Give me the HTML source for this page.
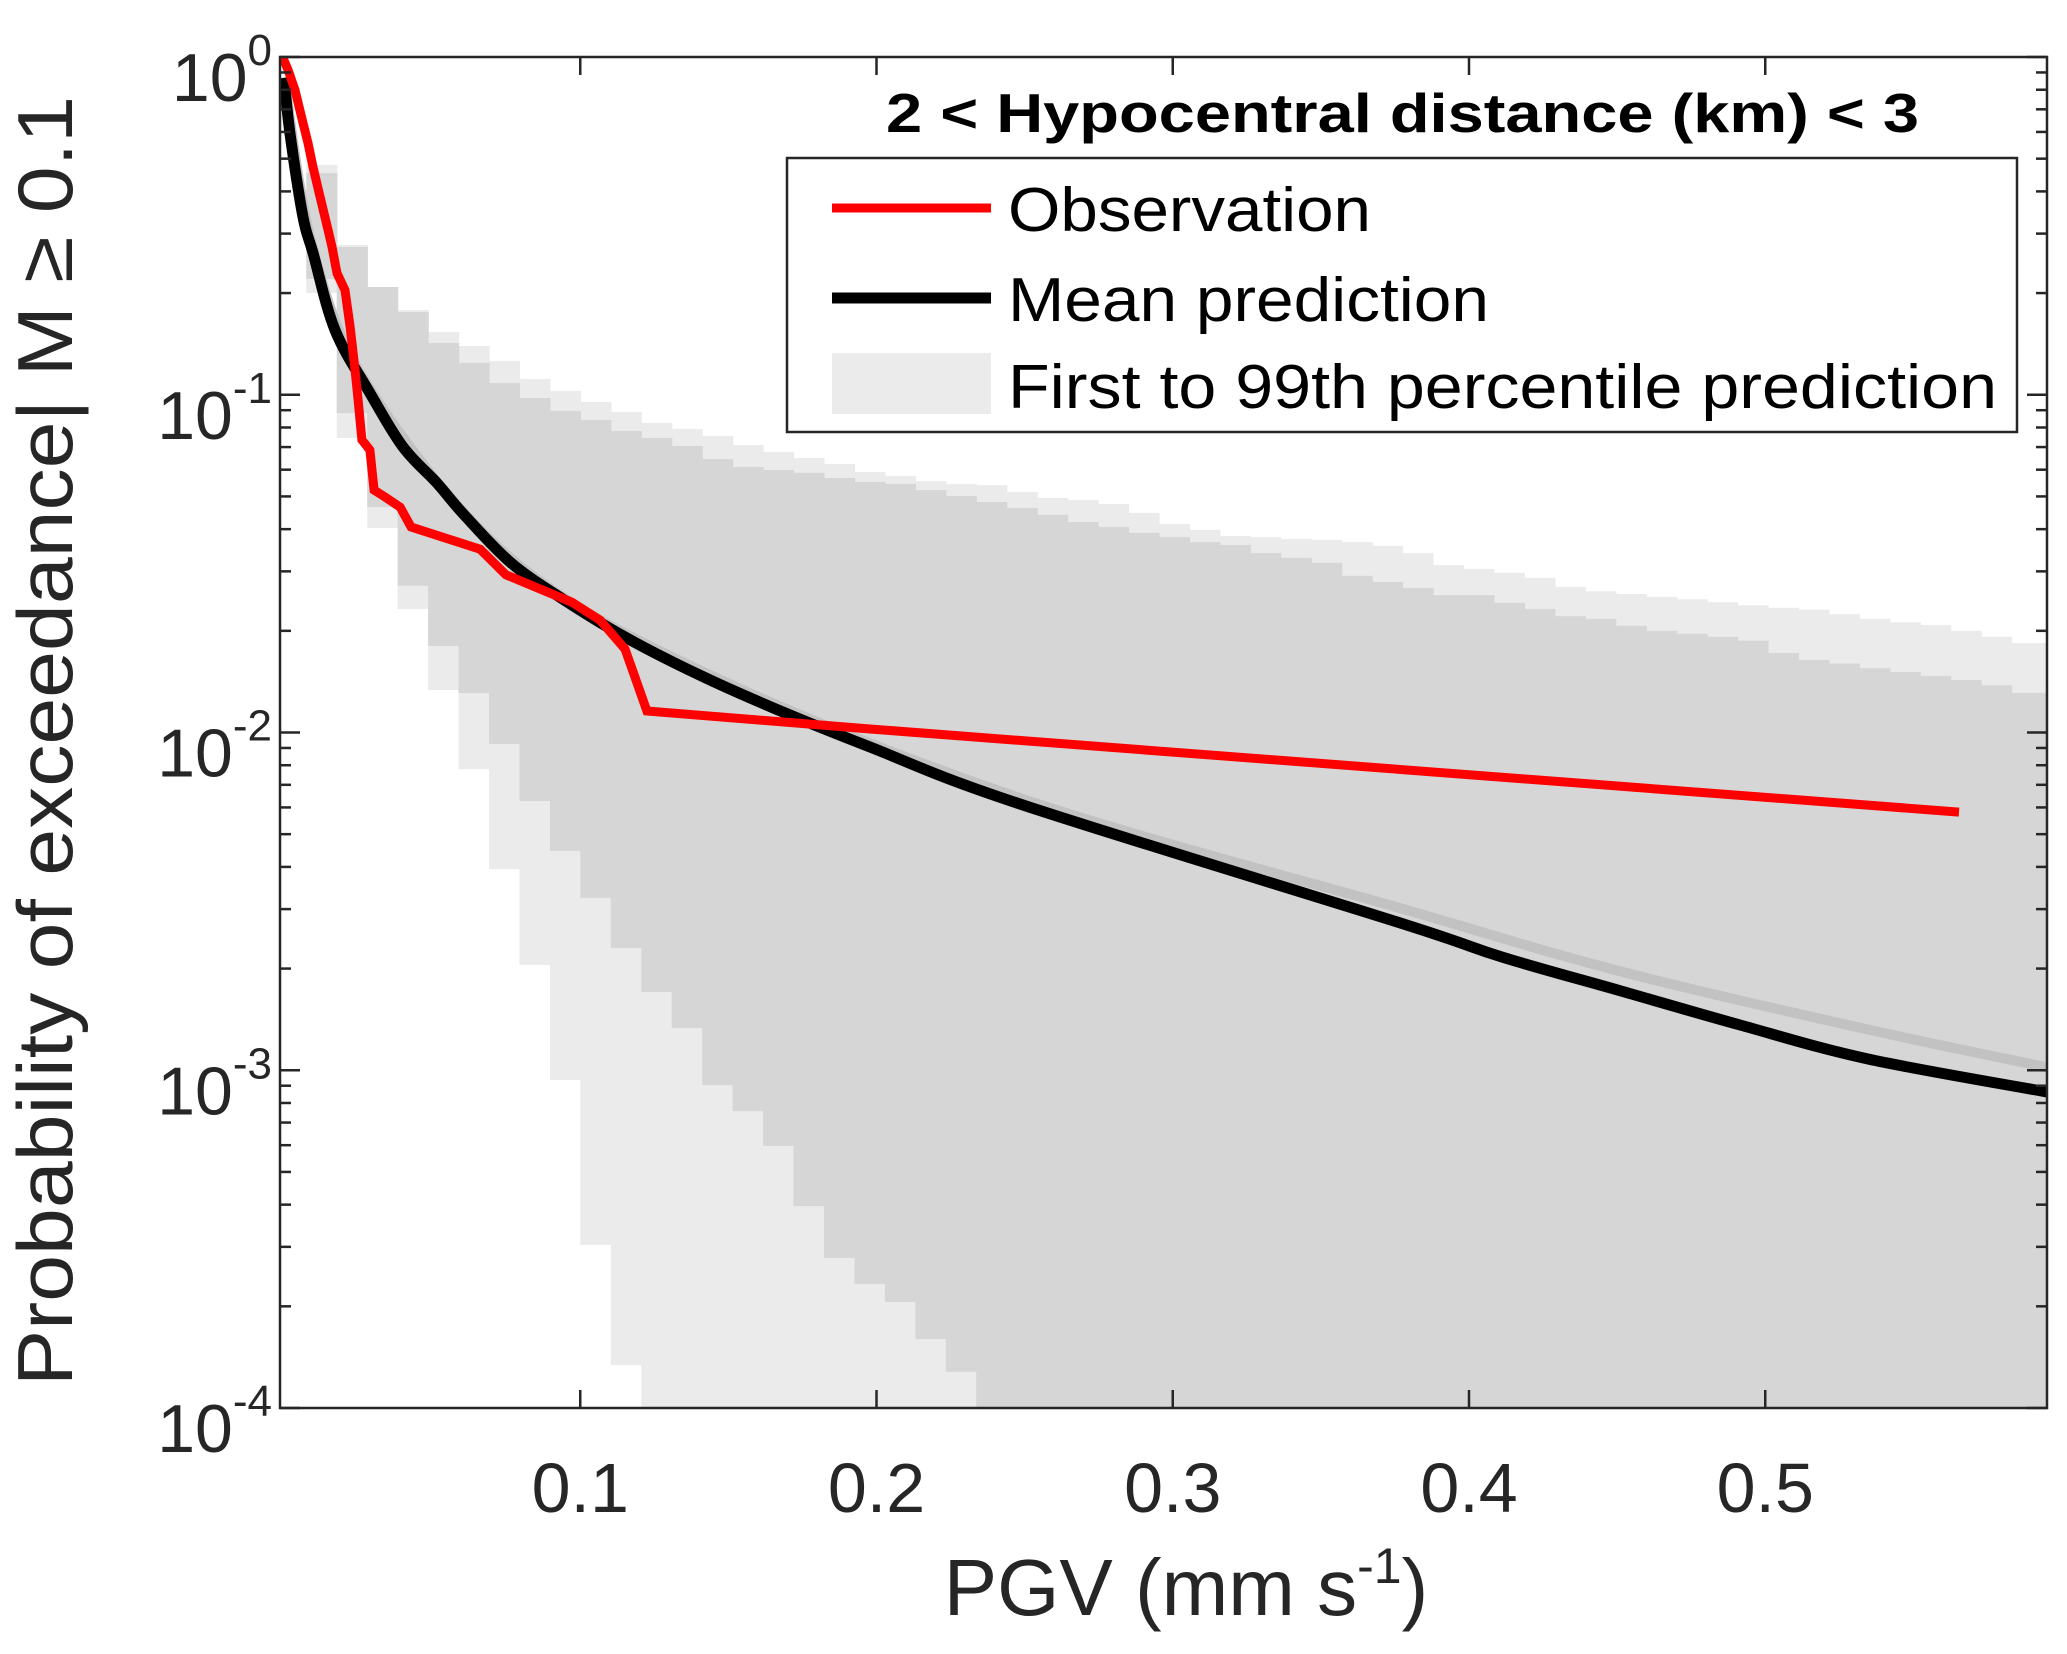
<!DOCTYPE html>
<html><head><meta charset="utf-8"><style>
html,body{margin:0;padding:0;background:#fff}
svg{display:block;font-family:"Liberation Sans",Arial,sans-serif}
</style></head><body>
<svg id="chart" width="2067" height="1654" viewBox="0 0 2067 1654" xmlns="http://www.w3.org/2000/svg">
<defs><clipPath id="plotclip"><rect x="280" y="57" width="1767" height="1351"/></clipPath></defs>
<g id="bands" clip-path="url(#plotclip)"></g>
<g id="lines" clip-path="url(#plotclip)"></g>
<g id="axes"></g>
<g>
  <text x="886" y="132" font-size="55" font-weight="bold" fill="#000" textLength="1033" lengthAdjust="spacingAndGlyphs">2 &lt; Hypocentral distance (km) &lt; 3</text>
  <rect x="787" y="158" width="1230" height="274" fill="#fff" stroke="#262626" stroke-width="2.5"/>
  <line x1="832" y1="208" x2="991" y2="208" stroke="#ff0000" stroke-width="9"/>
  <text x="1008" y="231" font-size="62" fill="#000" textLength="363" lengthAdjust="spacingAndGlyphs">Observation</text>
  <line x1="832" y1="298" x2="991" y2="298" stroke="#000" stroke-width="11"/>
  <text x="1008" y="321" font-size="62" fill="#000" textLength="481" lengthAdjust="spacingAndGlyphs">Mean prediction</text>
  <rect x="832" y="353" width="159" height="61" fill="#ebebeb"/>
  <text x="1008" y="408" font-size="62" fill="#000" textLength="989" lengthAdjust="spacingAndGlyphs">First to 99th percentile prediction</text>
</g>
<text x="1186" y="1615" font-size="80" fill="#262626" text-anchor="middle">PGV (mm s<tspan font-size="50" dy="-32">-1</tspan><tspan dy="32">)</tspan></text>
<text transform="translate(72,741) rotate(-90)" font-size="78" fill="#262626" text-anchor="middle" textLength="1290" lengthAdjust="spacingAndGlyphs">Probability of exceedance| M ≥ 0.1</text>
</svg>
<script>
// ---- data ----
const xTicks = [0.1, 0.2, 0.3, 0.4, 0.5];
const xTickLabels = ["0.1", "0.2", "0.3", "0.4", "0.5"];
const yDecades = [0, -1, -2, -3, -4];
const yTickExps = ["0", "-1", "-2", "-3", "-4"];
const binStart = 0.00753;
const binWidth = 0.010279;
const upperLight = [0.479,0.2776,0.2085,0.1781,0.1534,0.1394,0.1259,0.1113,0.1026,0.0952,0.0889,0.0825,0.0792,0.0755,0.0710,0.0677,0.0650,0.0624,0.0591,0.0575,0.0555,0.0544,0.0540,0.0515,0.0495,0.0488,0.0475,0.0447,0.0414,0.0398,0.0382,0.0379,0.0374,0.0372,0.0366,0.0357,0.0340,0.0313,0.0305,0.0297,0.0287,0.0270,0.0262,0.0257,0.0252,0.0248,0.0243,0.0238,0.0234,0.0231,0.0224,0.0217,0.0212,0.0208,0.0200,0.0192,0.0184,0.0184];
const upperDark = [0.4535,0.2738,0.2085,0.1758,0.1423,0.1242,0.1083,0.0978,0.0895,0.0842,0.0781,0.0745,0.0705,0.0645,0.0611,0.0599,0.0587,0.0567,0.0552,0.0544,0.0522,0.0501,0.0481,0.0462,0.0441,0.0420,0.0406,0.0390,0.0379,0.0366,0.0359,0.0340,0.0329,0.0318,0.0291,0.0279,0.0268,0.0255,0.0255,0.0242,0.0232,0.0221,0.0217,0.0207,0.0200,0.0196,0.0192,0.0187,0.0172,0.0164,0.0160,0.0155,0.0151,0.0147,0.0143,0.0138,0.0131,0.0131];
const lowerDark = [0.2202,0.0883,0.0465,0.0272,0.01804,0.01309,0.00925,0.00627,0.00446,0.00324,0.00230,0.001705,0.001334,0.000904,0.000757,0.000597,0.000396,0.000278,0.000233,0.000206,0.000160,0.000128,0.000100,0.00005,0.00005,0.00005,0.00005,0.00005,0.00005,0.00005,0.00005,0.00005,0.00005,0.00005,0.00005,0.00005,0.00005,0.00005,0.00005,0.00005,0.00005,0.00005,0.00005,0.00005,0.00005,0.00005,0.00005,0.00005,0.00005,0.00005,0.00005,0.00005,0.00005,0.00005,0.00005,0.00005,0.00005,0.00005];
const lowerLight = [0.2001,0.0745,0.0403,0.0232,0.01336,0.00779,0.00394,0.00205,0.000936,0.000304,0.000134,0.00005,0.00005,0.00005,0.00005,0.00005,0.00005,0.00005,0.00005,0.00005,0.00005,0.00005,0.00005,0.00005,0.00005,0.00005,0.00005,0.00005,0.00005,0.00005,0.00005,0.00005,0.00005,0.00005,0.00005,0.00005,0.00005,0.00005,0.00005,0.00005,0.00005,0.00005,0.00005,0.00005,0.00005,0.00005,0.00005,0.00005,0.00005,0.00005,0.00005,0.00005,0.00005,0.00005,0.00005,0.00005,0.00005,0.00005];
const obsX = [-0.0005,0.0014,0.0037,0.0064,0.0081,0.0098,0.0122,0.0149,0.0162,0.0179,0.0206,0.0223,0.0240,0.0250,0.0263,0.0290,0.0304,0.0341,0.0392,0.0429,0.0662,0.0749,0.0972,0.1067,0.1151,0.1225,0.1978,0.5654];
const obsY = [1.0,0.915,0.798,0.638,0.556,0.472,0.385,0.307,0.274,0.229,0.204,0.159,0.118,0.0965,0.0735,0.0686,0.0522,0.0498,0.0465,0.0406,0.0349,0.0293,0.0243,0.0215,0.01767,0.01158,0.01024,0.00581];
const meanX = [0.0,0.0020,0.0064,0.0098,0.0172,0.0290,0.0402,0.0516,0.0608,0.0766,0.0945,0.1151,0.1424,0.1701,0.1978,0.2484,0.3767,0.4111,0.4513,0.4915,0.5347,0.5951];
const meanY = [0.867,0.596,0.336,0.263,0.1555,0.1012,0.0700,0.0548,0.0441,0.0318,0.0247,0.01917,0.01450,0.01134,0.00906,0.00614,0.00273,0.002164,0.001717,0.001361,0.00108,0.000862];
const medX = [0.0,0.0098,0.0290,0.0766,0.1424,0.2484,0.3767,0.4513,0.5347,0.5951];
const medY = [0.87,0.27,0.104,0.0328,0.0150,0.0064,0.00302,0.00196,0.00132,0.00102];

// ---- axes functions ----
const L=280,R=2047,T=57,B=1408;
const X0=284, XS=2962.5;
function sx(v){return X0+v*XS;}
function sy(p){return T-(Math.log10(p))*(B-T)/4;}
const NS="http://www.w3.org/2000/svg";
function mk(tag,attrs,parent){const e=document.createElementNS(NS,tag);for(const k in attrs)e.setAttribute(k,attrs[k]);parent.appendChild(e);return e;}

const bands=document.getElementById('bands');
for(let i=0;i<upperLight.length;i++){
  const x1=sx(binStart+i*binWidth), x2=sx(binStart+(i+1)*binWidth);
  const r=mk('rect',{x:x1,y:sy(upperLight[i]),width:x2-x1+0.6,height:sy(lowerLight[i])-sy(upperLight[i]),fill:'#ebebeb'},bands);
  
  
}
for(let i=0;i<upperDark.length;i++){
  const x1=sx(binStart+i*binWidth), x2=sx(binStart+(i+1)*binWidth);
  const r=mk('rect',{x:x1,y:sy(upperDark[i]),width:x2-x1+0.6,height:sy(lowerDark[i])-sy(upperDark[i]),fill:'#d6d6d6'},bands);
  
  
}
const lines=document.getElementById('lines');
function pts(xs,ys){return xs.map((v,i)=>sx(v).toFixed(1)+','+sy(ys[i]).toFixed(1)).join(' ');}
function smooth(xs,ys){
  const P=xs.map((v,i)=>[sx(v),sy(ys[i])]);
  let d='M'+P[0][0].toFixed(1)+','+P[0][1].toFixed(1);
  for(let i=0;i<P.length-1;i++){
    const p0=P[Math.max(0,i-1)],p1=P[i],p2=P[i+1],p3=P[Math.min(P.length-1,i+2)];
    const c1=[p1[0]+(p2[0]-p0[0])/6,p1[1]+(p2[1]-p0[1])/6];
    const c2=[p2[0]-(p3[0]-p1[0])/6,p2[1]-(p3[1]-p1[1])/6];
    d+=' C'+c1[0].toFixed(1)+','+c1[1].toFixed(1)+' '+c2[0].toFixed(1)+','+c2[1].toFixed(1)+' '+p2[0].toFixed(1)+','+p2[1].toFixed(1);
  }
  return d;
}
const med=mk('path',{d:smooth(medX,medY),fill:'none',stroke:'#c2c2c2',"stroke-width":10},lines);


const mean=mk('path',{d:smooth(meanX,meanY),fill:'none',stroke:'#000',"stroke-width":11},lines);


const obs=mk('polyline',{points:pts(obsX,obsY),fill:'none',stroke:'#ff0000',"stroke-width":9,"stroke-linejoin":'miter'},lines);



const axes=document.getElementById('axes');
const frame=mk('rect',{x:L,y:T,width:R-L,height:B-T,fill:'none',stroke:'#262626',"stroke-width":2.5},axes);


xTicks.forEach((v,i)=>{
  const x=sx(v);
  mk('line',{x1:x,y1:B,x2:x,y2:B-18,stroke:'#262626',"stroke-width":2.5},axes);
  mk('line',{x1:x,y1:T,x2:x,y2:T+18,stroke:'#262626',"stroke-width":2.5},axes);
  const t=mk('text',{x:x,y:1512,"font-size":70,fill:'#262626',"text-anchor":'middle'},axes);
  t.textContent=xTickLabels[i];
  
  
});
yDecades.forEach((d,i)=>{
  const y=sy(Math.pow(10,d));
  mk('line',{x1:L,y1:y,x2:L+20,y2:y,stroke:'#262626',"stroke-width":2.5},axes);
  mk('line',{x1:R,y1:y,x2:R-20,y2:y,stroke:'#262626',"stroke-width":2.5},axes);
  if(d>-4){for(let m=2;m<=9;m++){const yy=sy(m*Math.pow(10,d-1));
    mk('line',{x1:L,y1:yy,x2:L+11,y2:yy,stroke:'#262626',"stroke-width":2.5},axes);
    mk('line',{x1:R,y1:yy,x2:R-11,y2:yy,stroke:'#262626',"stroke-width":2.5},axes);}}
  const t=mk('text',{x:272,y:y+44,"font-size":68,fill:'#262626',"text-anchor":'end'},axes);
  
  
  const a=document.createElementNS(NS,'tspan');a.textContent='10';t.appendChild(a);
  const b=document.createElementNS(NS,'tspan');b.setAttribute('font-size','44');b.setAttribute('dy','-36');b.textContent=yTickExps[i];t.appendChild(b);
});
</script>
</body></html>
